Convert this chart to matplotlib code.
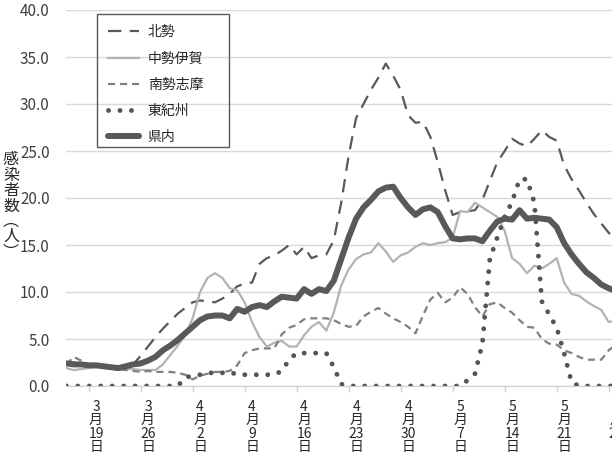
import matplotlib
matplotlib.use('Agg')
import matplotlib.pyplot as plt
from matplotlib.patches import Rectangle

plt.rcParams['font.family'] = ['Noto Sans CJK JP', 'DejaVu Sans']

# 3月15日 ～ 5月28日 の日別データ（7日間平均）
n_days = 75

hokusei = [2.3, 2.5, 2.3, 2.1, 2.1, 2.0, 1.9, 2.0, 2.2, 2.3, 3.2, 4.2, 5.2, 6.1, 6.9,
           7.7, 8.3, 8.9, 9.1, 9.0, 8.9, 9.3, 9.8, 10.6, 10.9, 11.0, 13.0, 13.6, 13.9, 14.4,
           15.0, 14.0, 14.8, 13.6, 13.9, 14.0, 15.5, 19.5, 24.5, 28.5, 30.0, 31.5, 32.8, 34.3, 33.0,
           31.5, 28.8, 28.0, 28.1, 26.5, 23.8, 20.8, 18.2, 18.5, 18.6, 18.7, 19.8, 21.8, 23.8, 25.0,
           26.3, 25.8, 25.5, 26.3, 27.2, 26.5, 26.1, 23.5, 22.0, 20.8, 19.5, 18.3, 17.3, 16.3, 15.5]
chusei_iga = [1.9, 1.7, 1.8, 1.9, 2.0, 2.0, 1.9, 1.8, 1.8, 1.8, 1.7, 1.7, 1.7, 2.3, 3.3,
              4.3, 5.4, 7.2, 10.0, 11.5, 12.0, 11.5, 10.4, 10.2, 8.9, 6.8, 5.2, 4.2, 4.6, 4.8,
              4.2, 4.2, 5.4, 6.3, 6.8, 5.9, 7.8, 10.7, 12.4, 13.5, 14.0, 14.2, 15.2, 14.3, 13.2,
              13.9, 14.2, 14.8, 15.2, 15.0, 15.2, 15.3, 15.8, 18.6, 18.5, 19.5, 19.0, 18.5, 18.0, 16.5,
              13.6, 13.0, 12.0, 12.8, 12.5, 13.0, 13.6, 11.0, 9.8, 9.6, 9.0, 8.5, 8.1, 6.8, 7.0]
nansei_shima = [2.3, 3.1, 2.7, 2.2, 2.1, 2.0, 1.9, 1.8, 1.7, 1.6, 1.5, 1.6, 1.5, 1.5, 1.5,
                1.4, 1.2, 0.7, 1.1, 1.3, 1.5, 1.5, 1.6, 2.2, 3.5, 3.8, 4.0, 4.0, 4.0, 5.5,
                6.2, 6.5, 7.1, 7.2, 7.2, 7.2, 7.0, 6.6, 6.3, 6.4, 7.4, 7.9, 8.3, 7.7, 7.2,
                6.8, 6.3, 5.6, 7.5, 9.2, 9.9, 8.9, 9.4, 10.5, 9.8, 8.4, 7.4, 8.7, 8.9, 8.3,
                7.8, 7.0, 6.3, 6.2, 5.0, 4.5, 4.4, 3.8, 3.5, 3.1, 2.8, 2.8, 2.8, 3.8, 4.4]
higashi_kishu = [0, 0, 0, 0, 0, 0, 0, 0, 0, 0, 0, 0, 0, 0, 0,
                 0, 0.9, 1.1, 1.2, 1.3, 1.5, 1.4, 1.5, 1.2, 1.2, 1.2, 1.2, 1.2, 1.2, 1.6,
                 2.8, 3.5, 3.5, 3.5, 3.5, 3.5, 2.0, 0.2, 0, 0, 0, 0, 0, 0, 0,
                 0, 0, 0, 0, 0, 0, 0, 0, 0, 0.6, 1.3, 4.5, 13.5, 15.8, 18.0,
                 19.6, 22.0, 22.0, 19.5, 9.0, 7.6, 6.2, 3.5, 0.4, 0, 0, 0, 0, 0, 0]
kennai = [2.4, 2.3, 2.3, 2.2, 2.2, 2.1, 2.0, 1.9, 2.1, 2.3, 2.4, 2.7, 3.1, 3.8, 4.3,
          4.9, 5.6, 6.3, 7.0, 7.4, 7.5, 7.5, 7.2, 8.2, 7.9, 8.4, 8.6, 8.4, 9.0, 9.5,
          9.4, 9.3, 10.3, 9.8, 10.3, 10.1, 11.2, 13.5, 15.8, 17.8, 19.0, 19.8, 20.7, 21.1, 21.2,
          20.0, 19.0, 18.2, 18.8, 19.0, 18.5, 17.0, 15.7, 15.6, 15.7, 15.7, 15.4, 16.5, 17.5, 17.8,
          17.7, 18.7, 17.8, 17.9, 17.8, 17.7, 16.9, 15.2, 14.0, 13.0, 12.1, 11.5, 10.8, 10.4, 10.1]

# ラベルは3/19から1週間ごと
label_text = ['3\n月\n19\n日', '3\n月\n26\n日', '4\n月\n2\n日', '4\n月\n9\n日',
              '4\n月\n16\n日', '4\n月\n23\n日', '4\n月\n30\n日', '5\n月\n7\n日',
              '5\n月\n14\n日', '5\n月\n21\n日', '5\n月\n28\n日']
label_pos = [4 + 7 * k for k in range(len(label_text))]
tick_pos = [p - 1 for p in label_pos]

x = list(range(n_days))

W, H = 612, 459
fig = plt.figure(figsize=(W / 100, H / 100), dpi=100)
px_day = 7.43
left_px, right_px = 66.3, 640
ax = fig.add_axes([left_px / W, (H - 386) / H, (right_px - left_px) / W, 376 / H])
ax.set_xlim(0, (right_px - left_px) / px_day)
ax.set_ylim(0, 40)

ax.plot(x, hokusei, color='#595959', lw=1.6, ls=(0, (6, 3.8)), label='北勢')
ax.plot(x, chusei_iga, color='#b3b3b3', lw=1.6, label='中勢伊賀')
ax.plot(x, nansei_shima, color='#808080', lw=1.6, ls=(0, (3.2, 2.2)), label='南勢志摩')
ax.plot(x, higashi_kishu, color='#555555', lw=3.5, ls=(0, (0.01, 2.35)),
        dash_capstyle='round', label='東紀州')
ax.plot(x, kennai, color='#595959', lw=4.3, solid_capstyle='round', label='県内')

ax.set_yticks(range(0, 41, 5))
ax.set_yticklabels([f'{v:.1f}' for v in range(0, 41, 5)])
ax.grid(axis='y', color='#d9d9d9', lw=1)
ax.set_axisbelow(True)
ax.tick_params(axis='y', length=0, pad=12, labelsize=11, labelcolor='#404040')

ax.set_xticks(label_pos, label_text)
ax.set_xticks(tick_pos, minor=True)
ax.tick_params(axis='x', which='major', length=0, pad=10, labelsize=10, labelcolor='#262626')
for t in ax.get_xticklabels():
    t.set_linespacing(0.95)
ax.tick_params(axis='x', which='minor', length=4, color='#d0d0d0', width=1)

for s in ['left', 'right', 'top']:
    ax.spines[s].set_visible(False)
ax.spines['bottom'].set_color('#d0d0d0')

fig.text(11 / W, 1 - 206 / H, '感\n染\n者\n数\n︵\n人\n︶', ha='center', va='center',
         fontsize=11.5, linespacing=0.88, color='#262626')

# 凡例（枠は別に描く）
fig.patches.append(Rectangle((97 / W, 1 - 147 / H), 132 / W, 133 / H,
                             transform=fig.transFigure, fill=False,
                             edgecolor='#595959', lw=1, zorder=5))
leg = fig.legend(loc='upper left', bbox_to_anchor=(104 / W, 1 - 21 / H), frameon=False,
                 fontsize=10, handlelength=2.2, handletextpad=0.65, labelspacing=0.88,
                 borderaxespad=0, borderpad=0.3)
for t in leg.get_texts():
    t.set_color('#262626')

plt.savefig('out.png', dpi=100)
